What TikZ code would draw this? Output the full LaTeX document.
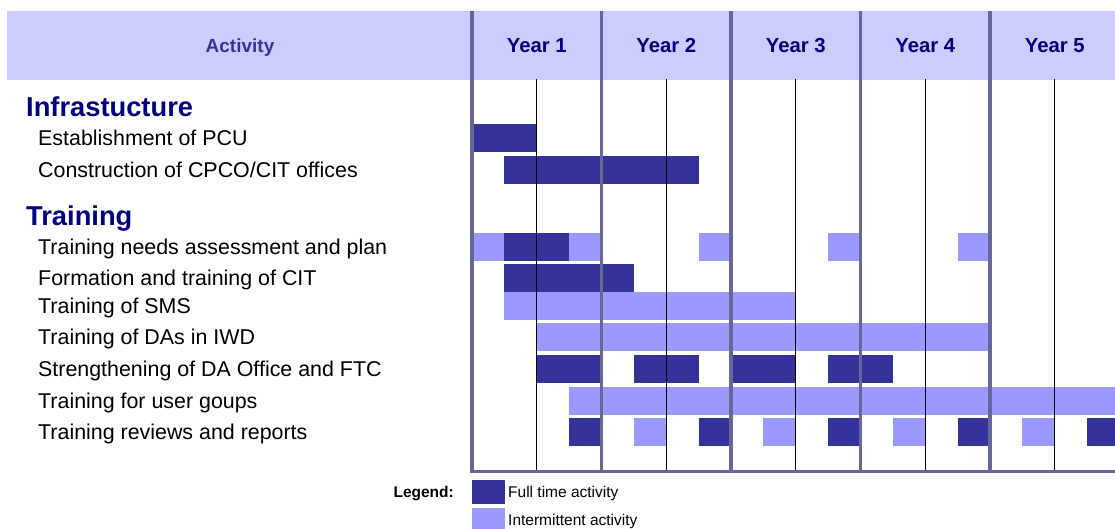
\documentclass[tikz,border=0pt]{standalone}
\usepackage{fontspec}
\setmainfont{Liberation Sans}

\definecolor{fullc}{HTML}{333399}
\definecolor{partc}{HTML}{9999FF}
\definecolor{headc}{HTML}{CCCCFF}
\definecolor{gridc}{HTML}{666699}
\definecolor{navyc}{HTML}{000080}

% left edge of the chart and width of one quarter
\newcommand{\xo}{472}
\newcommand{\qw}{32.375}

\begin{document}
\begin{tikzpicture}[x=1pt, y=-1pt,
    fullbar/.style={fill=fullc},
    partbar/.style={fill=partc},
    yearline/.style={draw=gridc, line width=3.5pt},
    halfline/.style={draw=black, line width=1pt},
    task/.style={anchor=west, inner sep=0pt, font=\fontsize{21.4}{25}\selectfont,
        text height=15.3pt, text depth=0pt},
    group/.style={anchor=west, inner sep=0pt, text=navyc,
        font=\fontsize{27.3}{32}\selectfont\bfseries, text height=19.5pt, text depth=0pt},
    yearlab/.style={inner sep=0pt, text=navyc,
        font=\fontsize{20.3}{24}\selectfont\bfseries, text height=14.5pt, text depth=0pt},
    legendtext/.style={anchor=west, inner sep=0pt, font=\fontsize{15.5}{18}\selectfont,
        text height=11.1pt, text depth=0pt}]

    % Fix the page size
    \useasboundingbox (0,0) rectangle (1115,529);
    \clip (0,0) rectangle (1115,529);

    % Draw the header band
    \fill[headc] (7,11) rectangle (1115,80);
    \node[inner sep=0pt, text=fullc, font=\fontsize{19}{22}\selectfont\bfseries,
        text height=13.6pt, text depth=0pt] (act) at (240,45.5) {Activity};
    \foreach \i in {1,...,5}
        \node[yearlab] (year\i) at ({\xo+129.5*(\i-0.5)},45.5) {Year \i};

    % Activity groups and tasks
    \node[group] (infra) at (26,107) {Infrastucture};
    \node[task] (est) at (38,138) {Establishment of PCU};
    \node[task] (con) at (38,170) {Construction of CPCO/CIT offices};

    \node[group] (train) at (26,216) {Training};
    \node[task] (tna) at (38,247) {Training needs assessment and plan};
    \node[task] (form) at (38,278) {Formation and training of CIT};
    \node[task] (sms) at (38,306) {Training of SMS};
    \node[task] (das) at (38,337) {Training of DAs in IWD};
    \node[task] (str) at (38,369) {Strengthening of DA Office and FTC};
    \node[task] (usr) at (38,401) {Training for user goups};
    \node[task] (rev) at (38,432) {Training reviews and reports};

    % Bars, in quarters from the start of year 1
    % Establishment of PCU
    \fill[fullbar] ({\xo+\qw*0},124) rectangle ({\xo+\qw*2},152);
    % Construction of CPCO/CIT offices
    \fill[fullbar] ({\xo+\qw*1},156) rectangle ({\xo+\qw*7},184);

    % Training needs assessment and plan
    \foreach \s/\e in {0/1, 3/4, 7/8, 11/12, 15/16}
        \fill[partbar] ({\xo+\qw*\s},233) rectangle ({\xo+\qw*\e},261);
    \fill[fullbar] ({\xo+\qw*1},233) rectangle ({\xo+\qw*3},261);
    % Formation and training of CIT
    \fill[fullbar] ({\xo+\qw*1},264) rectangle ({\xo+\qw*5},292);
    % Training of SMS
    \fill[partbar] ({\xo+\qw*1},292) rectangle ({\xo+\qw*10},320);
    % Training of DAs in IWD
    \fill[partbar] ({\xo+\qw*2},323) rectangle ({\xo+\qw*16},351);
    % Strengthening of DA Office and FTC
    \foreach \s/\e in {2/4, 5/7, 8/10, 11/13}
        \fill[fullbar] ({\xo+\qw*\s},355) rectangle ({\xo+\qw*\e},383);
    % Training for user goups
    \fill[partbar] ({\xo+\qw*3},387) rectangle ({\xo+\qw*21},415);
    % Training reviews and reports
    \foreach \s in {3,7,11,15,19}
        \fill[fullbar] ({\xo+\qw*\s},418) rectangle ({\xo+\qw*(\s+1)},446);
    \foreach \s in {5,9,13,17}
        \fill[partbar] ({\xo+\qw*\s},418) rectangle ({\xo+\qw*(\s+1)},446);

    % Half year lines
    \foreach \i in {0,...,4}
        \draw[halfline] ({\xo+129.5*\i+64.75},79) -- ({\xo+129.5*\i+64.75},471);

    % Year lines and bottom line
    \draw[yearline] (\xo,11) -- (\xo,471.3) -- (1120,471.3);
    \foreach \i in {1,...,4}
        \draw[yearline] ({\xo+129.5*\i},11) -- ({\xo+129.5*\i},471.3);

    % Legend
    \node[anchor=east, inner sep=0pt, font=\fontsize{15.5}{18}\selectfont\bfseries,
        text height=11.1pt, text depth=0pt] (leg) at (454,492) {Legend:};
    \fill[fullbar] (472,480) rectangle (505,504);
    \fill[partbar] (472,508) rectangle (505,532);
    \node[legendtext] (legfull) at (508,492) {Full time activity};
    \node[legendtext] (legpart) at (508,519.5) {Intermittent activity};

\end{tikzpicture}
\end{document}
